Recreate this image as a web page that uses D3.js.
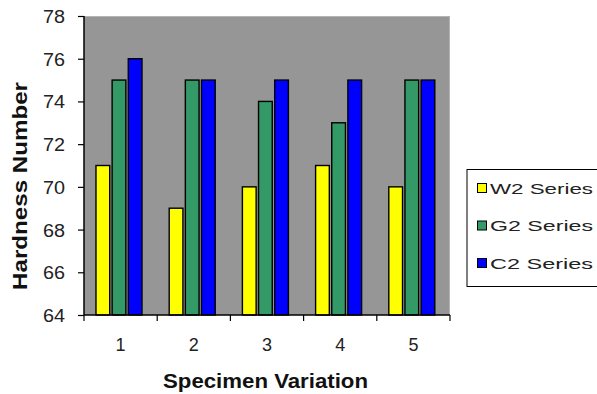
<!DOCTYPE html>
<html>
<head>
<meta charset="utf-8">
<script src="https://cdn.jsdelivr.net/npm/d3@7"></script>
<style>
  html, body { margin: 0; padding: 0; background: #fff; }
  svg { display: block; font-family: "Liberation Sans", Arial, sans-serif; }
</style>
</head>
<body>
<svg id="chart" width="597" height="394"></svg>
<script>
// Hardness readings per specimen variation
const categories = ["1", "2", "3", "4", "5"];
const seriesNames = ["W2 Series", "G2 Series", "C2 Series"];
const w2Values = [71, 69, 70, 71, 70];
const g2Values = [75, 75, 74, 73, 75];
const c2Values = [76, 75, 75, 75, 75];
const seriesColors = ["#ffff00", "#339966", "#0000ff"];
const yTicks = [64, 66, 68, 70, 72, 74, 76, 78];

const seriesValues = [w2Values, g2Values, c2Values];

const svg = d3.select("#chart");
const plot = { left: 84, right: 450, top: 16, bottom: 315 };

const x0 = d3.scaleBand().domain(categories).range([plot.left, plot.right]).padding(0);
const x1 = d3.scaleBand().domain(seriesNames).range([12, 58]).paddingInner(0.15);
const y = d3.scaleLinear().domain([64, 78]).range([plot.bottom, plot.top]);

// plot area background
svg.append("rect")
  .attr("x", plot.left).attr("y", plot.top)
  .attr("width", plot.right - plot.left).attr("height", plot.bottom - plot.top)
  .attr("fill", "#969696");
svg.append("path")
  .attr("d", `M${plot.left},${plot.top + 0.5}H${plot.right - 0.5}V${plot.bottom}`)
  .attr("fill", "none").attr("stroke", "#b4b4b4").attr("stroke-width", 1);

// bars
const groups = svg.append("g").selectAll("g")
  .data(categories)
  .join("g")
  .attr("transform", d => `translate(${x0(d)},0)`);

groups.selectAll("rect")
  .data((d, i) => seriesNames.map((s, j) => ({ s, j, v: seriesValues[j][i] })))
  .join("rect")
  .attr("x", d => x1(d.s))
  .attr("y", d => y(d.v))
  .attr("width", x1.bandwidth())
  .attr("height", d => y(64) - y(d.v))
  .attr("fill", d => seriesColors[d.j])
  .attr("stroke", "#000")
  .attr("stroke-width", 1.4);

// y axis
const yAxis = svg.append("g")
  .attr("transform", `translate(${plot.left},0)`)
  .call(d3.axisLeft(y).tickValues(yTicks).tickSize(6).tickPadding(13).tickFormat(d3.format("d")));
yAxis.select(".domain").attr("stroke", "#000").attr("stroke-width", 1.5).attr("d", `M0,${plot.top}V${plot.bottom}`);
yAxis.selectAll(".tick line").attr("stroke", "#000").attr("stroke-width", 1.2);
yAxis.selectAll(".tick text")
  .attr("font-family", "Liberation Sans, Arial, sans-serif")
  .attr("font-size", 18).attr("fill", "#222")
  .attr("textLength", 22).attr("lengthAdjust", "spacingAndGlyphs")
  .attr("dy", "0.36em");

// x axis
const xAxis = svg.append("g")
  .attr("transform", `translate(0,${plot.bottom})`);
xAxis.append("line")
  .attr("x1", plot.left).attr("x2", plot.right)
  .attr("stroke", "#000").attr("stroke-width", 1.5);
const boundaries = categories.map(c => x0(c)).concat([plot.right]);
xAxis.selectAll("line.tk")
  .data(boundaries)
  .join("line")
  .attr("class", "tk")
  .attr("x1", d => d).attr("x2", d => d)
  .attr("y1", 0).attr("y2", 6)
  .attr("stroke", "#000").attr("stroke-width", 1.2);
xAxis.selectAll("text")
  .data(categories)
  .join("text")
  .attr("x", d => x0(d) + x0.bandwidth() / 2)
  .attr("y", 36)
  .attr("text-anchor", "middle")
  .attr("font-size", 18).attr("fill", "#222")
  .text(d => d);

// axis titles
svg.append("text")
  .attr("x", 265.5).attr("y", 388)
  .attr("text-anchor", "middle")
  .attr("font-size", 20).attr("font-weight", "bold").attr("fill", "#111")
  .attr("textLength", 205).attr("lengthAdjust", "spacingAndGlyphs")
  .text("Specimen Variation");

svg.append("text")
  .attr("transform", "translate(27,186) rotate(-90)")
  .attr("text-anchor", "middle")
  .attr("font-size", 20).attr("font-weight", "bold").attr("fill", "#111")
  .attr("textLength", 208).attr("lengthAdjust", "spacingAndGlyphs")
  .text("Hardness Number");

// legend
const legend = svg.append("g");
legend.append("rect")
  .attr("x", 467).attr("y", 169.5)
  .attr("width", 140).attr("height", 117)
  .attr("fill", "#fff").attr("stroke", "#000").attr("stroke-width", 1);
const rowY = [188, 225.5, 263];
const items = legend.selectAll("g.item")
  .data(seriesNames)
  .join("g")
  .attr("class", "item")
  .attr("transform", (d, i) => `translate(0,${rowY[i]})`);
items.append("rect")
  .attr("x", 477.5).attr("y", -4.5)
  .attr("width", 9).attr("height", 9)
  .attr("fill", (d, i) => seriesColors[i])
  .attr("stroke", "#000").attr("stroke-width", 1);
items.append("text")
  .attr("x", 490).attr("y", 5.5)
  .attr("font-size", 15).attr("fill", "#222")
  .attr("textLength", 103).attr("lengthAdjust", "spacingAndGlyphs")
  .text(d => d);
</script>
</body>
</html>
